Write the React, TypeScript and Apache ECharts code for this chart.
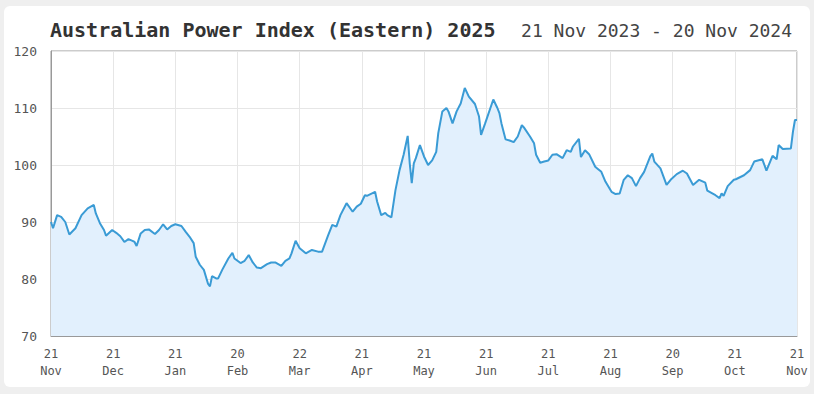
import React, { useEffect, useRef } from "react";
import * as echarts from "echarts";

const titleText = "Australian Power Index (Eastern) 2025";
const rangeText = "21 Nov 2023 - 20 Nov 2024";

const xTickLabels = [
  "21\nNov", "21\nDec", "21\nJan", "20\nFeb", "22\nMar", "21\nApr", "21\nMay",
  "21\nJun", "21\nJul", "21\nAug", "20\nSep", "21\nOct", "21\nNov",
];

// day offset from 21 Nov 2023
const days = [
  0, 1, 3, 5, 7, 9, 12, 15, 17, 18, 21, 22, 24, 26, 27, 30, 32, 34, 36, 38,
  40, 41, 42, 44, 46, 48, 51, 53, 55, 57, 59, 61, 64, 66, 68, 70, 71, 73, 75, 77,
  78, 79, 81, 82, 84, 87, 89, 90, 93, 95, 97, 99, 101, 103, 106, 108, 110, 113, 115, 117,
  118, 120, 122, 125, 128, 131, 133, 136, 138, 140, 142, 145, 148, 150, 152, 154, 155, 159, 160, 162,
  164, 165, 167, 169, 171, 173, 175, 176, 177, 178, 179, 181, 183, 185, 187, 189, 190, 192, 194, 195,
  197, 199, 201, 203, 205, 208, 210, 211, 213, 217, 219, 220, 221, 223, 225, 227, 229, 231, 232, 235,
  237, 238, 240, 242, 244, 246, 248, 251, 253, 255, 256, 259, 260, 262, 264, 267, 268, 270, 272, 275,
  277, 279, 281, 283, 285, 287, 289, 291, 294, 295, 296, 299, 302, 304, 307, 310, 312, 315, 318, 321,
  322, 326, 328, 329, 330, 332, 335, 336, 340, 343, 345, 349, 351, 354, 356, 357, 359, 363, 364, 365,
  366,
];

const values = [
  90.0, 88.9, 91.2, 90.9, 90.0, 87.8, 88.9, 91.2, 92.0, 92.4, 93.0, 91.5, 89.8, 88.6, 87.6, 88.6, 88.1, 87.5, 86.5, 87.0,
  86.7, 86.5, 85.8, 88.0, 88.6, 88.7, 87.9, 88.6, 89.6, 88.7, 89.3, 89.6, 89.3, 88.3, 87.4, 86.3, 83.9, 82.5, 81.6, 79.2,
  78.7, 80.5, 80.1, 80.1, 81.6, 83.6, 84.6, 83.6, 82.8, 83.2, 84.2, 82.9, 82.0, 81.9, 82.6, 82.9, 82.9, 82.3, 83.2, 83.6,
  84.5, 86.7, 85.4, 84.5, 85.1, 84.8, 84.8, 87.7, 89.5, 89.2, 91.2, 93.3, 91.8, 92.7, 93.2, 94.7, 94.6, 95.3, 93.6, 91.2,
  91.6, 91.2, 90.8, 95.6, 99.1, 101.8, 105.1, 100.3, 96.8, 100.3, 101.2, 103.5, 101.5, 100.0, 100.8, 102.3, 105.6, 109.4, 110.0, 109.4,
  107.3, 109.4, 110.8, 113.5, 112.0, 110.7, 108.5, 105.3, 107.3, 111.5, 110.0, 109.1, 107.3, 104.5, 104.3, 104.0, 105.0, 107.0, 106.6, 105.0,
  103.8, 101.8, 100.4, 100.6, 100.8, 101.8, 101.9, 101.2, 102.6, 102.3, 103.2, 104.6, 101.4, 102.6, 101.9, 99.7, 99.4, 98.8, 97.1, 95.3,
  94.9, 95.0, 97.4, 98.2, 97.7, 96.3, 97.7, 98.8, 101.5, 102.0, 100.6, 99.4, 96.5, 97.4, 98.4, 99.0, 98.5, 96.5, 97.4, 96.9,
  95.5, 94.7, 94.2, 95.0, 94.6, 96.3, 97.4, 97.5, 98.2, 99.1, 100.6, 101.0, 99.0, 101.6, 101.0, 103.5, 102.8, 102.9, 105.8, 107.9,
  107.9,
];

const yMin = 70;
const yMax = 120;
const yStep = 10;
const totalDays = 366;
const xStep = 30.5;

const mono = "'DejaVu Sans Mono', 'Liberation Mono', monospace";

export default function App() {
  const ref = useRef<HTMLDivElement>(null);

  useEffect(() => {
    document.body.style.margin = "0";
    if (!ref.current) return;
    const chart = echarts.init(ref.current, undefined, { renderer: "svg" });
    const data = days.map((d, i) => [d, values[i]]);
    chart.setOption({
      animation: false,
      title: [
        {
          text: titleText,
          left: 45,
          top: 15,
          textStyle: { fontFamily: mono, fontSize: 20, fontWeight: "bold", color: "#333" },
        },
        {
          text: rangeText,
          right: 17,
          top: 16,
          textStyle: { fontFamily: mono, fontSize: 18, fontWeight: "normal", color: "#444" },
        },
      ],
      grid: {
        left: 51,
        right: 17,
        top: 51,
        bottom: 58,
        show: true,
        borderColor: "#999",
        borderWidth: 1,
        backgroundColor: "transparent",
      },
      xAxis: {
        type: "value",
        min: 0,
        max: totalDays,
        interval: xStep,
        axisLine: { show: true, lineStyle: { color: "#999" } },
        axisTick: { show: false },
        splitLine: { show: true, lineStyle: { color: "#e6e6e6" } },
        axisLabel: {
          fontFamily: mono,
          fontSize: 12,
          color: "#555",
          lineHeight: 17,
          margin: 9,
          showMinLabel: true,
          showMaxLabel: true,
          formatter: (v: number) => xTickLabels[Math.round(v / xStep)] ?? "",
        },
      },
      yAxis: {
        type: "value",
        min: yMin,
        max: yMax,
        interval: yStep,
        axisLine: { show: true, lineStyle: { color: "#999" } },
        axisTick: { show: false },
        splitLine: { show: true, lineStyle: { color: "#e6e6e6" } },
        axisLabel: { fontFamily: mono, fontSize: 13, color: "#555", margin: 14 },
      },
      series: [
        {
          type: "line",
          data,
          showSymbol: false,
          symbol: "none",
          lineStyle: { color: "#3a9bd5", width: 2 },
          areaStyle: { color: "#e2f0fd", opacity: 1 },
        },
      ],
    });
    return () => chart.dispose();
  }, []);

  return (
    <div style={{ position: "relative", width: 814, height: 394, background: "#efefef", overflow: "hidden" }}>
      <div
        style={{
          position: "absolute",
          left: 4,
          top: 6,
          width: 806,
          height: 381,
          background: "#fff",
          borderRadius: 6,
        }}
      />
      <div ref={ref} style={{ position: "absolute", left: 0, top: 0, width: 814, height: 394 }} />
    </div>
  );
}
